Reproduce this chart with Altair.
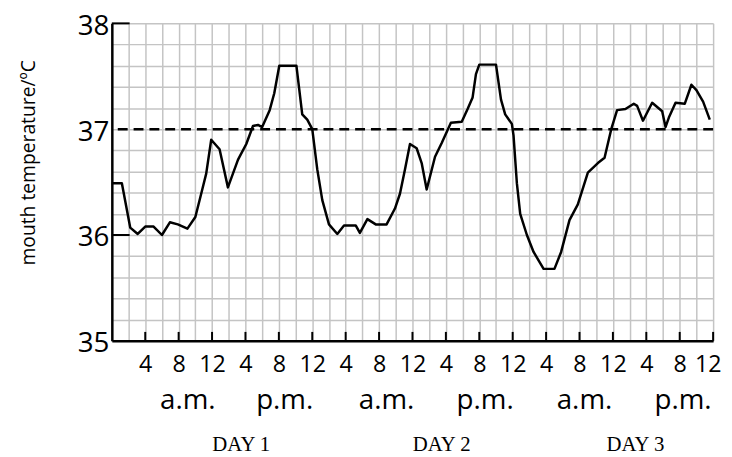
import altair as alt
import pandas as pd

# ---- data ----
hours = [0, 1.2, 2.2, 3.1, 4.0, 5.0, 6.0, 6.95, 7.9, 9.05, 10.0, 10.7, 11.3, 11.9, 12.9, 13.9,
         15.1, 15.3, 16.1, 16.9, 17.5, 18.0, 18.9, 19.45, 20.05, 22.1, 22.8, 23.4, 24.0, 24.6,
         25.2, 26.0, 27.0, 27.8, 29.2, 29.7, 30.6, 31.6, 32.9, 33.9, 34.5, 35.1, 35.7, 36.5,
         37.1, 37.7, 38.7, 39.5, 40.6, 41.9, 42.6, 43.2, 43.6, 44.0, 46.0, 46.6, 47.1, 47.9,
         48.1, 48.5, 48.9, 49.7, 50.5, 51.7, 53.0, 53.8, 54.8, 55.8, 57.0, 58.2, 59.0, 59.8,
         60.5, 61.5, 62.5, 62.9, 63.6, 64.7, 65.9, 66.3, 66.7, 67.5, 68.6, 69.4, 70.0, 70.8, 71.6]
temps = [36.49, 36.49, 36.07, 36.01, 36.08, 36.08, 36.0, 36.12, 36.1, 36.06, 36.17, 36.39, 36.58,
         36.90, 36.81, 36.45, 36.71, 36.74, 36.86, 37.03, 37.04, 37.02, 37.18, 37.34, 37.60,
         37.60, 37.14, 37.09, 37.0, 36.62, 36.33, 36.1, 36.01, 36.09, 36.09, 36.02, 36.15, 36.10,
         36.10, 36.25, 36.39, 36.62, 36.86, 36.82, 36.68, 36.43, 36.74, 36.87, 37.06, 37.07,
         37.19, 37.30, 37.52, 37.61, 37.61, 37.28, 37.14, 37.05, 36.94, 36.49, 36.20, 36.0,
         35.84, 35.68, 35.68, 35.84, 36.14, 36.29, 36.59, 36.68, 36.73, 37.0, 37.18, 37.19,
         37.24, 37.22, 37.08, 37.25, 37.17, 37.02, 37.11, 37.25, 37.24, 37.42, 37.37, 37.26, 37.09]

grid_hours = list(range(0, 73, 2))
grid_temps = [round(35 + 0.2 * i, 1) for i in range(16)]
tick_hours = list(range(4, 73, 4))
ytick_temps = [36, 38]
ref_temp = [37]

ampm_hours = [9.1, 20.7, 32.9, 44.7, 56.6, 68.4]
ampm_text = ["a.m.", "p.m.", "a.m.", "p.m.", "a.m.", "p.m."]
day_hours = [15.5, 39.5, 62.7]
day_text = ["DAY 1", "DAY 2", "DAY 3"]

W, H = 608, 321
FONT = "Open Sans"

x_scale = alt.Scale(domain=[0, 72], nice=False, zero=False)
y_scale = alt.Scale(domain=[35, 38], nice=False, zero=False)

x_axis = alt.Axis(
    values=grid_hours, grid=True, gridColor="#c4c4c4", gridWidth=1.5,
    domainColor="black", domainWidth=2.5, ticks=False, tickSize=0,
    labelExpr="datum.value > 0 && datum.value % 4 == 0 ? (datum.value % 12 == 0 ? '12' : toString(datum.value % 12)) : ''",
    labelFont=FONT, labelFontSize=23.5, labelColor="black", labelPadding=12,
    labelFlush=True, labelFlushOffset=8, labelOverlap=False, title=None)

y_axis = alt.Axis(
    values=grid_temps, grid=True, gridColor="#c4c4c4", gridWidth=1.5,
    domainColor="black", domainWidth=2.5, ticks=False, tickSize=0,
    labelExpr="abs(datum.value - round(datum.value)) < 0.01 ? toString(round(datum.value)) : ''",
    labelFont=FONT, labelFontSize=28, labelColor="black", labelPadding=3, labelOffset=3,
    labelOverlap=False, labelFlush=False,
    title="mouth temperature/ºC", titleAngle=-90, titleX=-84, titleY=140.5,
    titleAlign="center", titleBaseline="middle", titleFont=FONT, titleFontSize=19.5,
    titleFontWeight="normal", titleColor="black")

xe = alt.X("hour:Q", scale=x_scale, axis=x_axis)
ye = alt.Y("temp:Q", scale=y_scale, axis=y_axis)

line = alt.Chart(pd.DataFrame({"hour": hours, "temp": temps})).mark_line(
    color="black", strokeWidth=2.5, strokeJoin="round").encode(x=xe, y=ye)

ref = alt.Chart(pd.DataFrame({"temp": ref_temp})).mark_rule(
    color="black", strokeWidth=2.5, strokeDash=[10, 6]).encode(y=ye)

yticks = alt.Chart(pd.DataFrame({"temp": ytick_temps})).mark_rule(
    color="black", strokeWidth=2).encode(y=ye, x=alt.value(0), x2=alt.value(18))

xticks = alt.Chart(pd.DataFrame({"hour": tick_hours})).mark_rule(
    color="black", strokeWidth=2).encode(x=xe, y=alt.value(H), y2=alt.value(H - 9))

ampm = alt.Chart(pd.DataFrame({"hour": ampm_hours, "label": ampm_text})).mark_text(
    font=FONT, fontSize=28, color="black", align="center", baseline="alphabetic").encode(
    x=xe, y=alt.value(H + 69), text="label:N")

days = alt.Chart(pd.DataFrame({"hour": day_hours, "label": day_text})).mark_text(
    font="Liberation Serif", fontSize=21, color="black", align="center", baseline="alphabetic").encode(
    x=xe, y=alt.value(H + 111), text="label:N")

chart = alt.layer(line, ref, yticks, xticks, ampm, days).properties(
    width=W, height=H,
    autosize=alt.AutoSizeParams(type="none"),
    padding={"left": 105, "top": 13, "right": 11, "bottom": 120},
    background="white",
).configure_view(stroke=None)

chart.save("out.html", embed_options={"renderer": "svg", "actions": False})
